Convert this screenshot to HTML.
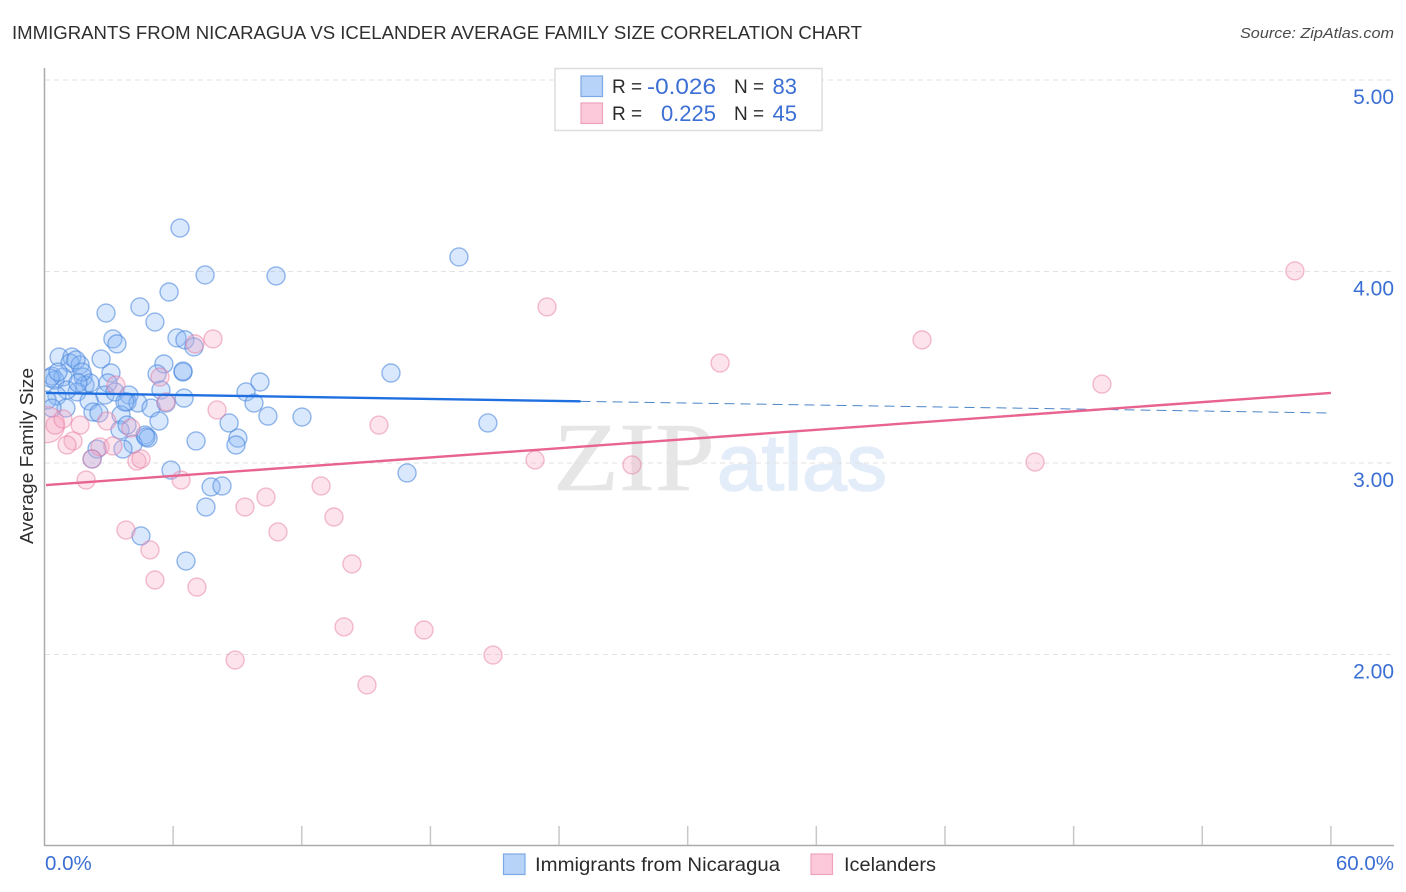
<!DOCTYPE html>
<html lang="en">
<head>
<meta charset="utf-8">
<title>Immigrants from Nicaragua vs Icelander Average Family Size Correlation Chart</title>
<style>
html,body{margin:0;padding:0;background:#fff;width:1406px;height:892px;overflow:hidden}
svg{display:block;font-family:"Liberation Sans",sans-serif}
</style>
</head>
<body>
<svg id="chart" xmlns="http://www.w3.org/2000/svg" width="1406" height="892" viewBox="0 0 1406 892">
  <defs><clipPath id="plot-clip"><rect x="45" y="68" width="1349" height="777"></rect></clipPath></defs>
  <rect x="0" y="0" width="1406" height="892" fill="#ffffff"></rect>
  <text x="12" y="39" font-size="18.5" fill="#2f2f2f" textLength="850" lengthAdjust="spacingAndGlyphs">IMMIGRANTS FROM NICARAGUA VS ICELANDER AVERAGE FAMILY SIZE CORRELATION CHART</text>
  <text x="1394" y="38" font-size="15" font-style="italic" fill="#4a4a4a" text-anchor="end" textLength="154" lengthAdjust="spacingAndGlyphs">Source: ZipAtlas.com</text>
  <g>
    <text x="553" y="490" font-family="'Liberation Serif',serif" font-size="98" fill="#e6e6e6" stroke="#e6e6e6" stroke-width="0.6" textLength="162" lengthAdjust="spacingAndGlyphs">ZIP</text>
    <text x="717" y="490" font-size="80" fill="#e3ecf9" stroke="#e3ecf9" stroke-width="1.6" textLength="170" lengthAdjust="spacingAndGlyphs">atlas</text>
  </g>
  <g id="grid"></g>
  <g id="axes"></g>
  <g id="points" clip-path="url(#plot-clip)"></g>
  <g id="trends"></g>
  <text x="0" y="0" transform="translate(33,456) rotate(-90)" font-size="18" fill="#2f2f2f" text-anchor="middle" textLength="176" lengthAdjust="spacingAndGlyphs">Average Family Size</text>
  <g>
    <rect x="555" y="68.5" width="267" height="62" fill="#ffffff" stroke="#dddddd" stroke-width="1.5"></rect>
    <rect x="581" y="76" width="21.5" height="20.5" fill="#b8d3f8" stroke="#7ba9e4" stroke-width="1.2"></rect>
    <rect x="581" y="103" width="21.5" height="20.5" fill="#fcc9da" stroke="#eea3bd" stroke-width="1.2"></rect>
    <text x="612" y="93" font-size="19" fill="#2b2b2b">R =</text>
    <text x="716" y="94" font-size="22" fill="#3b6fd4" text-anchor="end" textLength="69" lengthAdjust="spacingAndGlyphs">-0.026</text>
    <text x="734" y="93" font-size="19" fill="#2b2b2b">N =</text>
    <text x="797" y="94" font-size="22" fill="#3b6fd4" text-anchor="end">83</text>
    <text x="612" y="120" font-size="19" fill="#2b2b2b">R =</text>
    <text x="716" y="121" font-size="22" fill="#3b6fd4" text-anchor="end">0.225</text>
    <text x="734" y="120" font-size="19" fill="#2b2b2b">N =</text>
    <text x="797" y="121" font-size="22" fill="#3b6fd4" text-anchor="end">45</text>
  </g>
  <g>
    <rect x="503.5" y="854" width="21.5" height="20.5" fill="#b8d3f8" stroke="#7ba9e4" stroke-width="1.2"></rect>
    <text x="535" y="871" font-size="19.5" fill="#2b2b2b" textLength="245" lengthAdjust="spacingAndGlyphs">Immigrants from Nicaragua</text>
    <rect x="811" y="854" width="21.5" height="20.5" fill="#fcc9da" stroke="#eea3bd" stroke-width="1.2"></rect>
    <text x="844" y="871" font-size="19.5" fill="#2b2b2b" textLength="92" lengthAdjust="spacingAndGlyphs">Icelanders</text>
  </g>
</svg>
<script>
const yTicks = [5, 4, 3, 2];
const yTickLabels = ["5.00", "4.00", "3.00", "2.00"];
const xTicks = [0, 6, 12, 18, 24, 30, 36, 42, 48, 54, 60];
const xEdgeLabels = ["0.0%", "60.0%"];

const blueX = [0.68,1.28,1.19,1.66,2.64,3.19,3.38,6.18,6.55,6.97,5.57,6.46,5.25,3.10,2.96,0.35,0.49,0.86,1.80,1.89,2.12,1.52,1.05,0.58,2.82,3.29,3.94,5.43,3.85,4.36,4.97,5.67,6.51,2.08,1.00,2.26,2.54,3.57,5.34,3.52,3.85,4.69,4.83,4.13,3.66,2.45,2.22,7.07,8.61,9.02,8.93,9.40,9.77,10.05,5.90,7.77,8.28,7.53,4.50,6.60,6.32,7.49,10.80,19.33,5.81,4.45,2.87,5.15,10.42,12.01,16.16,20.68,16.91,0.12,0.26,0.63,1.47,1.75,0.35,3.75,4.73,6.46,1.56];
const blueY = [3.553,3.553,3.522,3.512,3.543,3.648,3.622,3.653,3.643,3.606,3.517,3.475,3.465,3.470,3.418,3.454,3.433,3.449,3.449,3.407,3.418,3.371,3.381,3.350,3.355,3.371,3.355,3.381,3.319,3.313,3.287,3.313,3.339,3.324,3.287,3.266,3.261,3.251,3.219,3.172,3.198,3.146,3.130,3.099,3.073,3.073,3.021,3.115,3.209,3.130,3.094,3.371,3.313,3.423,2.963,2.875,2.880,2.770,2.619,2.488,4.227,3.982,3.977,4.076,3.893,3.815,3.783,3.736,3.245,3.240,3.470,3.209,2.948,3.329,3.444,3.475,3.538,3.475,3.287,3.319,3.136,3.480,3.418];

const pinkX = [0.10,58.32,23.44,40.93,31.51,49.32,46.20,27.40,22.88,15.60,7.86,7.02,8.05,3.33,5.39,5.67,0.49,0.86,1.66,1.33,1.05,2.59,3.19,2.91,4.03,2.22,4.31,4.50,1.94,6.37,3.80,4.92,5.15,7.11,9.35,10.33,12.90,10.89,13.50,14.34,13.97,17.70,20.92,8.89,15.04];
const pinkY = [3.200,4.003,3.815,3.643,3.522,3.412,3.005,2.990,3.016,3.198,3.648,3.622,3.277,3.407,3.449,3.319,3.198,3.230,3.198,3.115,3.094,3.084,3.089,3.219,3.183,3.021,3.010,3.021,2.911,2.911,2.650,2.546,2.389,2.352,2.770,2.822,2.880,2.640,2.718,2.473,2.144,2.128,1.997,1.971,1.841];
const pinkWeight = [4,1,1,1,1,1,1,1,1,1,1,1,1,1,1,1,1,1,1,1,1,1,1,1,1,1,1,1,1,1,1,1,1,1,1,1,1,1,1,1,1,1,1,1,1];

const blueTrendX = [0, 25, 60];
const blueTrendY = [3.366, 3.322, 3.261];
const pinkTrendX = [0, 60];
const pinkTrendY = [2.885, 3.366];

const SVG_NS = 'http://www.w3.org/2000/svg';
function xScale(v){ return 44.5 + v * 21.44; }
function yScale(v){ return 80 + (5 - v) * 191.5; }
function make(tag, attrs, parent){
  const n = document.createElementNS(SVG_NS, tag);
  for (const k in attrs) n.setAttribute(k, attrs[k]);
  parent.appendChild(n);
  return n;
}

const gridG = document.getElementById('grid');
const axesG = document.getElementById('axes');
const pointsG = document.getElementById('points');
const trendsG = document.getElementById('trends');

yTicks.forEach(function(t, i){
  const y = yScale(t);
  const line = make('line', {x1:45, x2:1394, y1:y, y2:y, stroke:'#e2e2e2', 'stroke-width':1, 'stroke-dasharray':'5 4'}, gridG);
  
  
  const label = make('text', {x:1394, y:y + 24, 'font-size':21, fill:'#3b6fd4', 'text-anchor':'end'}, axesG);
  label.textContent = yTickLabels[i];
  
  
});

const yAxis = make('line', {x1:44.5, x2:44.5, y1:68, y2:846, stroke:'#aaaaaa', 'stroke-width':1.5}, axesG);


const xAxis = make('line', {x1:44, x2:1394, y1:845.5, y2:845.5, stroke:'#aaaaaa', 'stroke-width':1.5}, axesG);



xTicks.slice(1).forEach(function(t){
  const x = xScale(t);
  const tick = make('line', {x1:x, x2:x, y1:826, y2:845, stroke:'#c8c8c8', 'stroke-width':1.5}, axesG);
  
  
});

const xLabelLeft = make('text', {x:45, y:870, 'font-size':20.5, fill:'#3b6fd4'}, axesG);
xLabelLeft.textContent = xEdgeLabels[0];


const xLabelRight = make('text', {x:1394, y:870, 'font-size':20.5, fill:'#3b6fd4', 'text-anchor':'end'}, axesG);
xLabelRight.textContent = xEdgeLabels[1];



blueX.forEach(function(v, i){
  const c = make('circle', {cx:xScale(v), cy:yScale(blueY[i]), r:9, fill:'#8ab8f5', 'fill-opacity':0.32, stroke:'#4a86dc', 'stroke-opacity':0.58, 'stroke-width':1.4}, pointsG);
  
  
});
pinkX.forEach(function(v, i){
  const c = make('circle', {cx:xScale(v), cy:yScale(pinkY[i]), r:9 * Math.sqrt(pinkWeight[i]), fill:'#f7a8c4', 'fill-opacity':0.32, stroke:'#e6799f', 'stroke-opacity':0.48, 'stroke-width':1.4}, pointsG);
  
  
});

const blueSolid = make('line', {x1:xScale(blueTrendX[0]) + 1.5, y1:yScale(blueTrendY[0]), x2:xScale(blueTrendX[1]), y2:yScale(blueTrendY[1]), stroke:'#1f6fe0', 'stroke-width':2.4}, trendsG);


const blueDash = make('line', {x1:xScale(blueTrendX[1]), y1:yScale(blueTrendY[1]), x2:xScale(blueTrendX[2]), y2:yScale(blueTrendY[2]), stroke:'#4a84cc', 'stroke-width':1, 'stroke-dasharray':'10 6'}, trendsG);


const pinkLine = make('line', {x1:xScale(pinkTrendX[0]) + 1.5, y1:yScale(pinkTrendY[0]), x2:xScale(pinkTrendX[1]), y2:yScale(pinkTrendY[1]), stroke:'#e8648f', 'stroke-width':2.4}, trendsG);


</script>
</body>
</html>
